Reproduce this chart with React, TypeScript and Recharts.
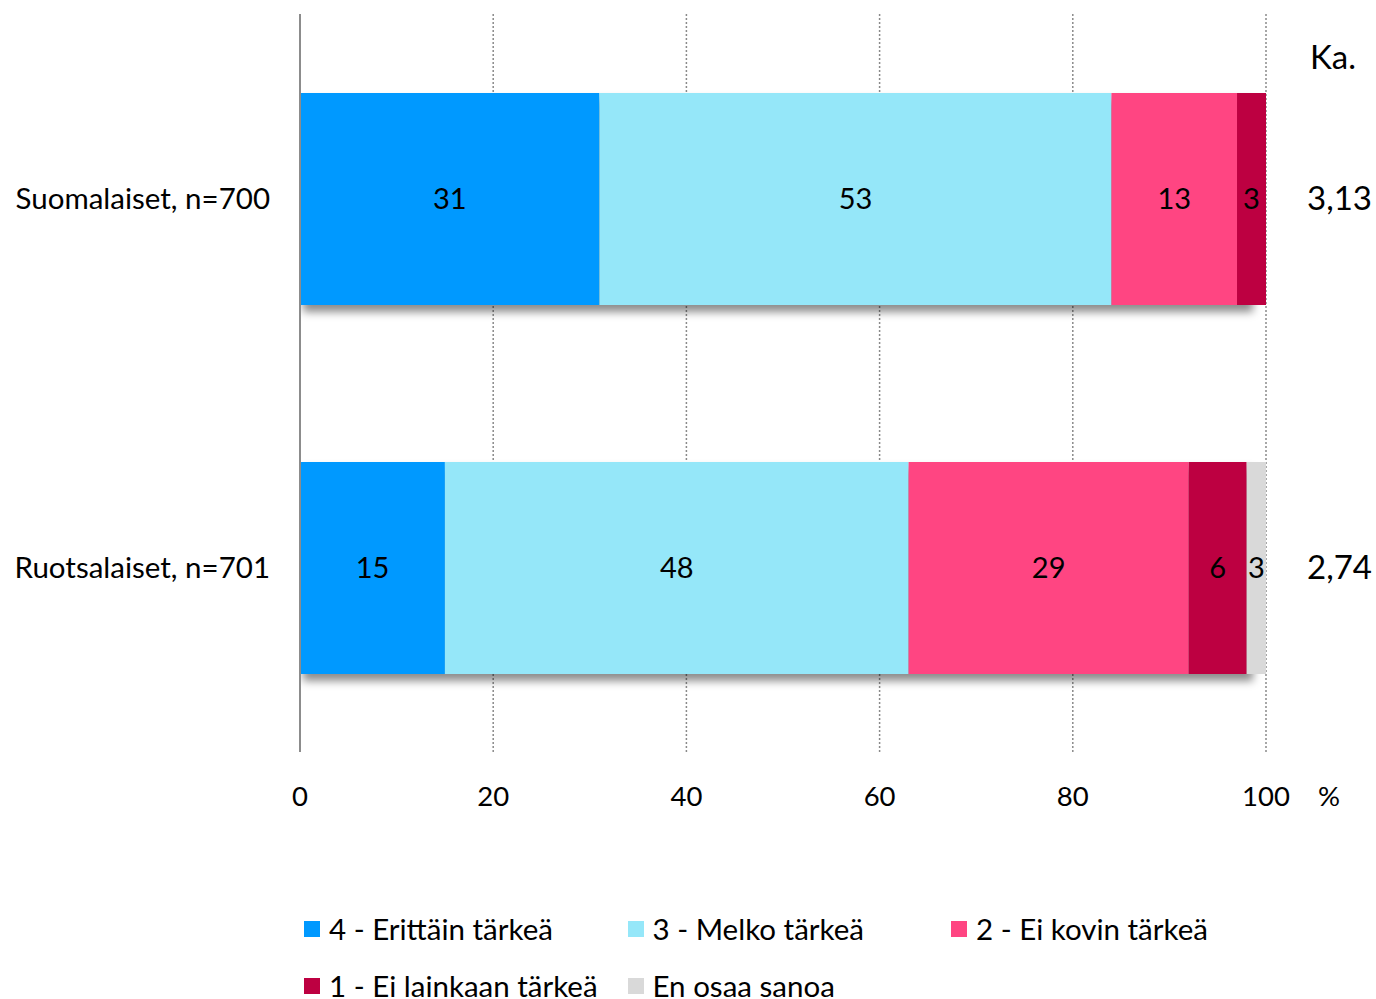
import {
  Bar,
  BarChart,
  CartesianGrid,
  Label,
  LabelList,
  Legend,
  XAxis,
  YAxis,
} from "recharts"

const groups = ["Suomalaiset, n=700", "Ruotsalaiset, n=701"]
const veryImportant = [31, 15]
const fairlyImportant = [53, 48]
const notVeryImportant = [13, 29]
const notAtAll = [3, 6]
const cantSay = [0, 3]
const means = ["3,13", "2,74"]
const xTicks = [0, 20, 40, 60, 80, 100]

const FONT = "Lato, 'Open Sans', sans-serif"

const series = [
  { key: "v4", name: "4 - Erittäin tärkeä", color: "#0099FF", values: veryImportant },
  { key: "v3", name: "3 - Melko tärkeä", color: "#95E7F9", values: fairlyImportant },
  { key: "v2", name: "2 - Ei kovin tärkeä", color: "#FF4582", values: notVeryImportant },
  { key: "v1", name: "1 - Ei lainkaan tärkeä", color: "#BD0041", values: notAtAll },
  { key: "eos", name: "En osaa sanoa", color: "#D9D9D9", values: cantSay },
]

const data = groups.map((group, i) => {
  const row: Record<string, string | number> = { group, mean: means[i] }
  let total = 0
  series.forEach((s) => {
    row[s.key] = s.values[i]
    total += s.values[i]
  })
  row.total = total
  return row
})

// first segment also paints the soft shadow under the whole row
function ShadowedBar(props: any) {
  const { x, y, width, height, fill, payload } = props
  const own = Number(payload?.v4) || 0
  const perUnit = own ? width / own : 0
  const rowWidth = Math.min(Number(payload?.total) || 0, 100) * perUnit
  return (
    <g>
      <rect
        x={x + 3}
        y={y + 7}
        width={Math.max(rowWidth - 16, 0)}
        height={height}
        fill="#000"
        fillOpacity={0.45}
        filter="url(#row-shadow)"
      />
      <rect x={x} y={y} width={width} height={height} fill={fill} />
    </g>
  )
}

function LegendContent() {
  return (
    <div
      style={{
        paddingTop: 68,
        paddingLeft: 304,
        display: "flex",
        flexWrap: "wrap",
        width: 1000,
        fontFamily: FONT,
        fontSize: 29.5,
        color: "#000",
      }}
    >
      {series.map((s) => (
        <div
          key={s.key}
          style={{ width: 323.5, height: 57, display: "flex", alignItems: "center" }}
        >
          <span
            style={{
              width: 16,
              height: 16,
              background: s.color,
              marginRight: 9,
              display: "inline-block",
            }}
          />
          <span>{s.name}</span>
        </div>
      ))}
    </div>
  )
}

const hideZero = (v: any) => (Number(v) === 0 ? "" : v)

export default function App() {
  return (
    <div style={{ position: "absolute", left: 0, top: 0, background: "#fff" }}>
      <BarChart
        width={1376}
        height={999}
        data={data}
        layout="vertical"
        margin={{ top: 14, right: 0, bottom: 0, left: 0 }}
        barSize={212}
      >
        <defs>
          <filter id="row-shadow" x="-5%" y="-20%" width="110%" height="140%">
            <feGaussianBlur stdDeviation="4" />
          </filter>
        </defs>
        <CartesianGrid
          horizontal={false}
          stroke="#8a8a8a"
          strokeWidth={1.5}
          strokeDasharray="2 2"
        />
        <XAxis
          type="number"
          domain={[0, 100]}
          ticks={xTicks}
          allowDataOverflow
          axisLine={false}
          tickLine={false}
          tickSize={0}
          tickMargin={34}
          height={80}
          tick={{ fill: "#000", fontSize: 27.5, fontFamily: FONT }}
        >
          <Label
            value="%"
            position="right"
            offset={52}
            dy={4}
            fill="#000"
            fontSize={27.5}
            fontFamily={FONT}
          />
        </XAxis>
        <YAxis
          type="category"
          dataKey="group"
          width={300}
          axisLine={{ stroke: "#8c8c8c", strokeWidth: 2 }}
          tickLine={false}
          tickSize={0}
          tickMargin={30}
          tick={{ fill: "#000", fontSize: 29.5, fontFamily: FONT }}
        />
        <YAxis
          yAxisId="mean"
          type="category"
          dataKey="group"
          orientation="right"
          width={110}
          axisLine={false}
          tickLine={false}
          tickSize={0}
          tickMargin={41}
          tickFormatter={(g: string) => means[groups.indexOf(g)]}
          tick={{ fill: "#000", fontSize: 33, fontFamily: FONT }}
        >
          <Label
            value="Ka."
            position="insideTop"
            offset={32}
            dx={12}
            fill="#000"
            fontSize={33}
            fontFamily={FONT}
          />
        </YAxis>
        <Legend
          verticalAlign="bottom"
          height={167}
          content={<LegendContent />}
          wrapperStyle={{ left: 0, width: 1376 }}
        />
        {series.map((s, i) => (
          <Bar
            key={s.key}
            dataKey={s.key}
            name={s.name}
            stackId="row"
            fill={s.color}
            isAnimationActive={false}
            shape={i === 0 ? <ShadowedBar /> : undefined}
          >
            <LabelList
              dataKey={s.key}
              position="center"
              fill="#000"
              fontSize={29}
              fontFamily={FONT}
              formatter={hideZero}
            />
          </Bar>
        ))}
      </BarChart>
    </div>
  )
}
